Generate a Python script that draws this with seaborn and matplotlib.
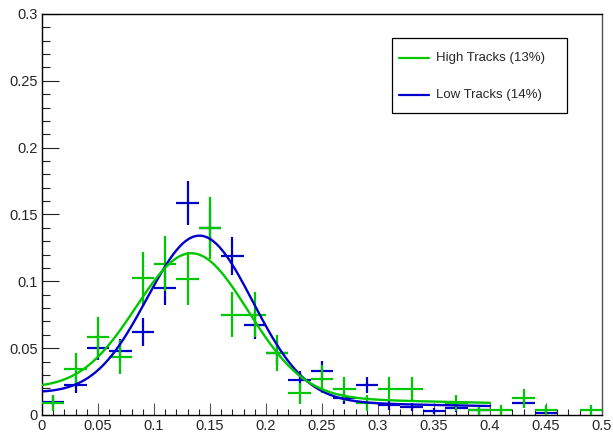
import numpy as np
import pandas as pd
import matplotlib
matplotlib.use("Agg")
import matplotlib.pyplot as plt
import seaborn as sns
from matplotlib.patches import Rectangle
from matplotlib.ticker import MultipleLocator, FuncFormatter

# Histogram bins (width 0.02) and normalised contents per sample
bin_centers = [0.01, 0.03, 0.05, 0.07, 0.09, 0.11, 0.13, 0.15, 0.17, 0.19,
               0.21, 0.23, 0.25, 0.27, 0.29, 0.31, 0.33, 0.35, 0.37, 0.39,
               0.41, 0.43, 0.45, 0.47, 0.49]
bin_width = 0.02

high_values = [0.0088, 0.0345, 0.0586, 0.0434, 0.1022, 0.1133, 0.1020, 0.1400,
               0.0750, 0.0750, 0.0465, 0.0162, 0.0270, 0.0195, 0.0088, 0.0195,
               0.0195, 0.0, 0.0090, 0.0037, 0.0037, 0.0125, 0.0037, 0.0, 0.0037]
low_values = [0.0100, 0.0228, 0.0502, 0.0481, 0.0620, 0.0950, 0.1585, 0.1400,
              0.1188, 0.0674, 0.0462, 0.0262, 0.0332, 0.0125, 0.0225, 0.0075,
              0.0060, 0.0030, 0.0052, 0.0034, 0.0, 0.0088, 0.0017, 0.0, 0.0]

# Number of entries behind each normalised histogram (sets the error bars)
high_entries = 260
low_entries = 580

# Fit results: gaussian peak on top of an exponential background
high_fit = {"amp": 0.1059, "mean": 0.134, "sigma": 0.0500, "bg_norm": 0.0195, "bg_slope": -1.9}
low_fit = {"amp": 0.1223, "mean": 0.141, "sigma": 0.0472, "bg_norm": 0.0162, "bg_slope": -2.2}
fit_range = (0.0, 0.4)

series_names = ["High Tracks (13%)", "Low Tracks (14%)"]
series_colors = ["#00c800", "#0000cc"]

x_ticks_major, x_ticks_minor = 0.05, 0.01
y_ticks_major, y_ticks_minor = 0.05, 0.01
x_limits = (0.0, 0.5)
y_limits = (0.0, 0.3)


def fit_model(x, amp, mean, sigma, bg_norm, bg_slope):
    return amp * np.exp(-0.5 * ((x - mean) / sigma) ** 2) + bg_norm * np.exp(bg_slope * x)


sns.set_theme(style="ticks")
plt.rcParams["font.family"] = ["Liberation Sans", "DejaVu Sans"]

W, H = 613, 434
fig = plt.figure(figsize=(W / 100, H / 100), dpi=100)
ax_l, ax_r, ax_t, ax_b = 42, 602, 14, 415
ax = fig.add_axes([ax_l / W, (H - ax_b) / H, (ax_r - ax_l) / W, (ax_b - ax_t) / H])

# Histogram points with errors
hist_rows = []
for name, vals, n in [(series_names[1], low_values, low_entries),
                      (series_names[0], high_values, high_entries)]:
    for xc, v in zip(bin_centers, vals):
        hist_rows.append({"series": name, "x": xc, "y": v, "err": np.sqrt(v / n)})
hist = pd.DataFrame(hist_rows)
hist = hist[hist["y"] > 0]

# Fitted curves
xs = np.linspace(fit_range[0], fit_range[1], 400)
curve = pd.concat([
    pd.DataFrame({"series": series_names[1], "x": xs, "y": fit_model(xs, **low_fit)}),
    pd.DataFrame({"series": series_names[0], "x": xs, "y": fit_model(xs, **high_fit)}),
])
palette = dict(zip(series_names, series_colors))

for name in [series_names[1], series_names[0]]:
    sub = hist[hist["series"] == name]
    ax.errorbar(sub["x"], sub["y"], xerr=bin_width / 2, yerr=sub["err"], fmt="none",
                ecolor=palette[name], elinewidth=1.6, capsize=0, zorder=3)
    sns.lineplot(data=curve[curve["series"] == name], x="x", y="y", color=palette[name],
                 linewidth=1.7, ax=ax, legend=False, zorder=4, estimator=None, sort=False)

ax.set_xlim(*x_limits)
ax.set_ylim(*y_limits)
ax.set_xlabel("")
ax.set_ylabel("")
ax.xaxis.set_major_locator(MultipleLocator(x_ticks_major))
ax.xaxis.set_minor_locator(MultipleLocator(x_ticks_minor))
ax.yaxis.set_major_locator(MultipleLocator(y_ticks_major))
ax.yaxis.set_minor_locator(MultipleLocator(y_ticks_minor))
fmt = FuncFormatter(lambda v, _: "%g" % round(v, 3))
ax.xaxis.set_major_formatter(fmt)
ax.yaxis.set_major_formatter(fmt)

ax.tick_params(axis="y", which="major", direction="in", length=12.2, width=0.8,
               pad=3, labelsize=10.5, color="#222222")
ax.tick_params(axis="y", which="minor", direction="in", length=6.1, width=0.8, color="#222222")
ax.tick_params(axis="x", which="major", direction="in", length=8.8, width=0.8,
               pad=3, labelsize=10.5, color="#555555")
ax.tick_params(axis="x", which="minor", direction="in", length=4.6, width=0.8, color="#222222")
for side in ["top", "right", "left", "bottom"]:
    ax.spines[side].set_visible(True)
    ax.spines[side].set_linewidth(1.0)
    ax.spines[side].set_color("black")
ax.spines["right"].set_color("#555555")

# Legend box
def ax_x(px):
    return (px - ax_l) / (ax_r - ax_l)


def ax_y(py):
    return (ax_b - py) / (ax_b - ax_t)


ax.add_patch(Rectangle((ax_x(392), ax_y(113)), ax_x(567) - ax_x(392), ax_y(38) - ax_y(113),
                       transform=ax.transAxes, facecolor="white", edgecolor="black",
                       linewidth=0.9, zorder=6))
for name, py in zip(series_names, [58, 95]):
    ax.plot([ax_x(399), ax_x(429)], [ax_y(py), ax_y(py)], transform=ax.transAxes,
            color=palette[name], linewidth=1.6, zorder=7)
    ax.text(ax_x(436), ax_y(py), name, transform=ax.transAxes, va="center", ha="left",
            fontsize=9.5, zorder=7)

fig.savefig("out.png", dpi=100)
